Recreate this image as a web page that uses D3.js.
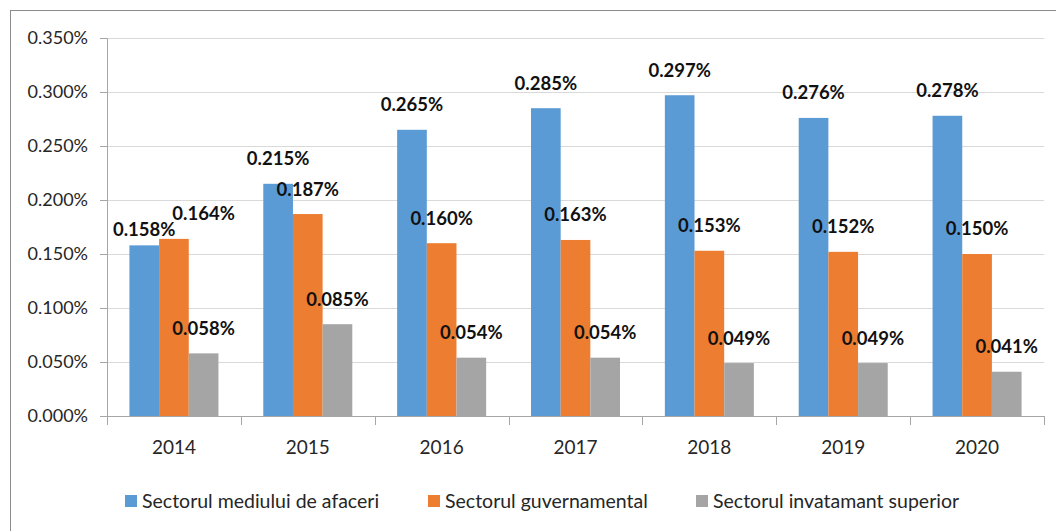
<!DOCTYPE html>
<html>
<head>
<meta charset="utf-8">
<script src="https://cdn.jsdelivr.net/npm/d3@7"></script>
<style>
  body { margin: 0; background: #fff; }
  text { font-family: Lato, "Open Sans", sans-serif; }
</style>
</head>
<body>
<div id="chart"></div>
<script>
var years = ["2014", "2015", "2016", "2017", "2018", "2019", "2020"];
var seriesNames = ["Sectorul mediului de afaceri", "Sectorul guvernamental", "Sectorul invatamant superior"];
var afaceri = [0.158, 0.215, 0.265, 0.285, 0.297, 0.276, 0.278];
var guvernamental = [0.164, 0.187, 0.160, 0.163, 0.153, 0.152, 0.150];
var superior = [0.058, 0.085, 0.054, 0.054, 0.049, 0.049, 0.041];
var yTicks = [0, 0.05, 0.1, 0.15, 0.2, 0.25, 0.3, 0.35];
var colors = ["#5B9BD5", "#ED7D31", "#A5A5A5"];

var svgWidth = 1056;
var svgHeight = 531;

var margin = {
  top: 38,
  right: 12,
  bottom: 115,
  left: 107
};

var width = svgWidth - margin.left - margin.right;
var height = svgHeight - margin.top - margin.bottom;

var svg = d3.select("#chart")
.append("svg")
.attr("width", svgWidth)
.attr("height", svgHeight);

// outer chart frame (cut off at right and bottom)
svg.append("rect")
.attr("x", 10.5)
.attr("y", 10.5)
.attr("width", svgWidth + 20)
.attr("height", svgHeight + 20)
.attr("fill", "none")
.attr("stroke", "#8c8c8c")
.attr("stroke-width", 1);

var chartGroup = svg.append("g")
.attr("transform", `translate(${margin.left}, ${margin.top})`);

var xScale = d3.scaleBand()
.domain(years)
.range([0, width])
.paddingInner(0.335)
.paddingOuter(0.1675);

var xSub = d3.scaleBand()
.domain(d3.range(3))
.range([0, xScale.bandwidth()]);

var yScale = d3.scaleLinear()
.domain([0, 0.35])
.range([height, 0]);

var pct = d => d.toFixed(3) + "%";

// gridlines
chartGroup.append("g")
.selectAll("line")
.data(yTicks.filter(d => d > 0))
.enter()
.append("line")
.attr("x1", 0)
.attr("x2", width)
.attr("y1", d => Math.round(yScale(d)) + 0.5)
.attr("y2", d => Math.round(yScale(d)) + 0.5)
.attr("stroke", "#d9d9d9")
.attr("stroke-width", 1);

var rows = [afaceri, guvernamental, superior];
var barData = [];
years.forEach(function(y, i) {
  rows.forEach(function(r, s) {
    barData.push({year: y, s: s, value: r[i]});
  });
});

chartGroup.selectAll("rect.bar")
.data(barData)
.enter()
.append("rect")
.attr("class", "bar")
.attr("x", d => xScale(d.year) + xSub(d.s))
.attr("y", d => yScale(d.value))
.attr("width", xSub.bandwidth())
.attr("height", d => height - yScale(d.value))
.attr("fill", d => colors[d.s]);

// axes
var leftAxis = d3.axisLeft(yScale)
.tickValues(yTicks)
.tickFormat(pct)
.tickSize(7)
.tickPadding(8);

var yAxisG = chartGroup.append("g")
.call(leftAxis);
yAxisG.select(".domain").attr("stroke", "#a6a6a6");
yAxisG.selectAll(".tick line").attr("stroke", "#a6a6a6");
yAxisG.selectAll(".tick text")
.attr("font-size", 18)
.attr("font-family", "Lato, sans-serif")
.attr("fill", "#262626")
.attr("x", -19);

var tickScale = d3.scalePoint()
.domain(d3.range(years.length + 1))
.range([0, width]);

var xAxisG = chartGroup.append("g")
.attr("transform", `translate(0, ${height})`);
xAxisG.append("line")
.attr("x1", 0)
.attr("x2", width)
.attr("y1", 0.5)
.attr("y2", 0.5)
.attr("stroke", "#a6a6a6");
xAxisG.selectAll("line.tk")
.data(tickScale.domain())
.enter()
.append("line")
.attr("class", "tk")
.attr("x1", d => Math.round(tickScale(d)) + 0.5)
.attr("x2", d => Math.round(tickScale(d)) + 0.5)
.attr("y1", 0)
.attr("y2", 9)
.attr("stroke", "#a6a6a6");
xAxisG.selectAll("text")
.data(years)
.enter()
.append("text")
.attr("x", d => xScale(d) + xScale.bandwidth() / 2)
.attr("y", 31)
.attr("dy", "0.35em")
.attr("text-anchor", "middle")
.attr("font-size", 19)
.attr("fill", "#262626")
.text(d => d);

// data labels above each bar, nudged where two labels collide
var labels = barData.map(function(d) {
  return {
    d: d,
    x: xScale(d.year) + xSub(d.s) + xSub.bandwidth() / 2,
    y: yScale(d.value) - 25
  };
});
years.forEach(function(y) {
  var g = labels.filter(l => l.d.year === y);
  for (var k = 1; k < g.length; k++) {
    if (Math.abs(g[k].y - g[k - 1].y) < 16) {
      g[k].x += xSub.bandwidth();
      g[k - 1].y += 9;
    }
  }
});

chartGroup.selectAll("text.lbl")
.data(labels)
.enter()
.append("text")
.attr("class", "lbl")
.attr("x", l => l.x)
.attr("y", l => l.y)
.attr("dy", "0.35em")
.attr("text-anchor", "middle")
.attr("font-size", 18.5)
.attr("font-weight", "bold")
.attr("fill", "#111")
.text(l => pct(l.d.value));

// legend
var legendX = [125, 428, 696];
var legend = svg.append("g")
.selectAll("g")
.data(seriesNames)
.enter()
.append("g")
.attr("transform", (d, i) => `translate(${legendX[i]}, 501)`);

legend.append("rect")
.attr("x", 0)
.attr("y", -6)
.attr("width", 12)
.attr("height", 12)
.attr("fill", (d, i) => colors[i]);

legend.append("text")
.attr("x", 17)
.attr("y", 0)
.attr("dy", "0.35em")
.attr("font-size", 19.5)
.attr("fill", "#262626")
.text(d => d);
</script>
</body>
</html>
